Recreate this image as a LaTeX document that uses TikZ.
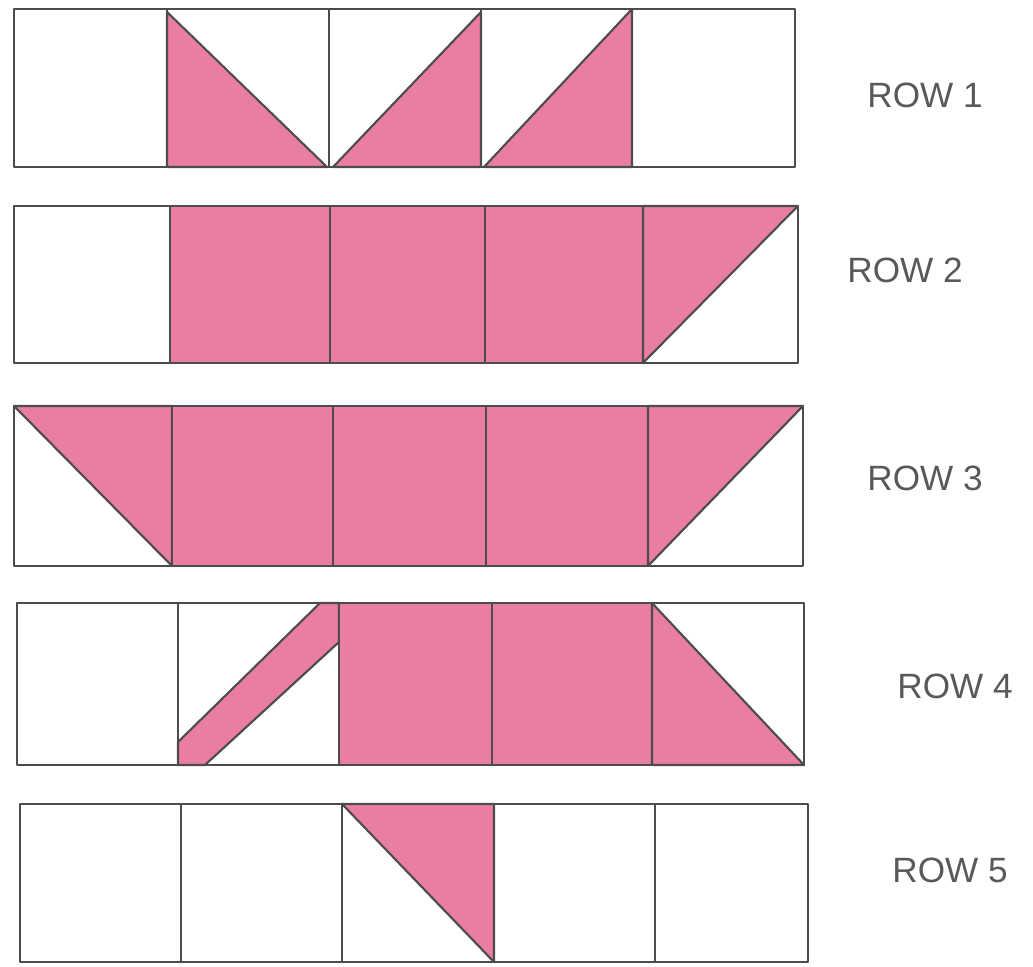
\documentclass[tikz,border=0pt]{standalone}
\usepackage{fontspec}
\setmainfont{Liberation Sans}
\usepackage{tikz}
\definecolor{catRosa}{HTML}{E97DA2}
\colorlet{colTrazo}{black!70}

\begin{document}
\begin{tikzpicture}[y=-1cm,
        celda/.style={draw=colTrazo, line width=0.8pt, line join=round},
        relleno/.style={fill=catRosa, draw=colTrazo, line width=0.6pt, line join=round},
        rotulo/.style={font=\normalsize, text=black!65, inner sep=0pt}
    ]
        \useasboundingbox (0,0) rectangle (10.33,9.67);

        % row 1
        \filldraw[relleno] (1.67,0.12) -- (1.67,1.67) -- (3.27,1.67) -- cycle;
        \filldraw[relleno] (3.33,1.67) -- (4.81,0.12) -- (4.81,1.67) -- cycle;
        \filldraw[relleno] (4.84,1.67) -- (6.32,0.09) -- (6.32,1.67) -- cycle;

        % row 2
        \filldraw[relleno] (1.70,2.06) rectangle (6.43,3.63);
        \filldraw[relleno] (6.43,2.06) -- (7.98,2.06) -- (6.43,3.63) -- cycle;

        % row 3
        \filldraw[relleno] (0.14,4.06) -- (1.72,4.06) -- (1.72,5.66) -- cycle;
        \filldraw[relleno] (1.72,4.06) rectangle (6.48,5.66);
        \filldraw[relleno] (6.48,4.06) -- (8.03,4.06) -- (6.48,5.66) -- cycle;

        % row 4
        \filldraw[relleno] (1.78,7.42) -- (3.20,6.03) -- (3.39,6.03) -- (3.39,6.42)
            -- (2.05,7.65) -- (1.78,7.65) -- cycle;
        \filldraw[relleno] (3.39,6.03) rectangle (6.52,7.65);
        \filldraw[relleno] (6.52,6.03) -- (6.52,7.65) -- (8.04,7.65) -- cycle;

        % row 5
        \filldraw[relleno] (3.42,8.04) -- (4.94,8.04) -- (4.94,9.62) -- cycle;

        % grids
        \foreach \t/\b/\xa/\xb/\xc/\xd/\xe/\xf [count=\n] in {
                0.09/1.67/0.14/1.67/3.29/4.81/6.32/7.95,
                2.06/3.63/0.14/1.70/3.30/4.85/6.43/7.98,
                4.06/5.66/0.14/1.72/3.33/4.86/6.48/8.03,
                6.03/7.65/0.17/1.78/3.39/4.92/6.52/8.04,
                8.04/9.62/0.20/1.81/3.42/4.94/6.55/8.08} {
            \draw[celda] (\xa,\t) rectangle (\xf,\b);
            \foreach \x in {\xb,\xc,\xd,\xe}
                \draw[celda] (\x,\t) -- (\x,\b);
        }

        % labels
        \node[rotulo] (fila1) at (9.25,0.95) {ROW 1};
        \node[rotulo] (fila2) at (9.05,2.70) {ROW 2};
        \node[rotulo] (fila3) at (9.25,4.78) {ROW 3};
        \node[rotulo] (fila4) at (9.55,6.86) {ROW 4};
        \node[rotulo] (fila5) at (9.50,8.70) {ROW 5};
    \end{tikzpicture}
\end{document}
